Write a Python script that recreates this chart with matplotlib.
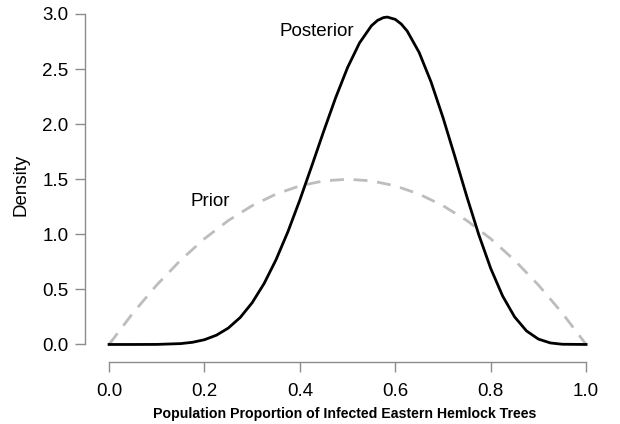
import numpy as np
import matplotlib
matplotlib.use('Agg')
import matplotlib.pyplot as plt

plt.rcParams['font.family'] = ['Liberation Sans', 'DejaVu Sans']

# curve values
post_x = [0.0, 0.05, 0.1, 0.15, 0.175, 0.2, 0.225, 0.25, 0.275, 0.3, 0.325, 0.35, 0.375,
          0.4, 0.425, 0.45, 0.475, 0.5, 0.525, 0.55, 0.5625, 0.575, 0.5833, 0.6, 0.6125,
          0.625, 0.65, 0.675, 0.7, 0.725, 0.75, 0.775, 0.8, 0.825, 0.85, 0.875, 0.9,
          0.925, 0.95, 1.0]
post_y = [0.0, 0.0, 0.0006, 0.0078, 0.0198, 0.0432, 0.084, 0.149, 0.245, 0.379, 0.553, 0.769, 1.024,
          1.312, 1.621, 1.936, 2.240, 2.514, 2.737, 2.893, 2.941, 2.967, 2.972, 2.951, 2.909,
          2.845, 2.651, 2.383, 2.060, 1.705, 1.342, 0.997, 0.691, 0.440, 0.251, 0.123, 0.049,
          0.014, 0.002, 0.0]

prior_x = [0.0, 0.05, 0.1, 0.15, 0.2, 0.25, 0.3, 0.35, 0.4, 0.45, 0.5,
           0.55, 0.6, 0.65, 0.7, 0.75, 0.8, 0.85, 0.9, 0.95, 1.0]
prior_y = [0.0, 0.285, 0.54, 0.765, 0.96, 1.125, 1.26, 1.365, 1.44, 1.485, 1.5,
           1.485, 1.44, 1.365, 1.26, 1.125, 0.96, 0.765, 0.54, 0.285, 0.0]

xticks = [0.0, 0.2, 0.4, 0.6, 0.8, 1.0]
yticks = [0.0, 0.5, 1.0, 1.5, 2.0, 2.5, 3.0]

fig = plt.figure(figsize=(6.2, 4.24), dpi=100)
ax = fig.add_axes([0.1374, 0.146, 0.8387, 0.834])

ax.plot(prior_x, prior_y, color='#bdbdbd', lw=2.0, dashes=(5, 3.5))
ax.plot(post_x, post_y, color='black', lw=2.0, solid_joinstyle='round')

ax.text(0.436, 2.84, 'Posterior', ha='center', va='center', fontsize=13.5)
ax.text(0.212, 1.30, 'Prior', ha='center', va='center', fontsize=13.5)

ax.set_xlim(-0.05, 1.04)
ax.set_ylim(-0.16, 3.05)
for s in ['top', 'right']:
    ax.spines[s].set_visible(False)
ax.spines['left'].set_bounds(0, 3)
ax.spines['bottom'].set_bounds(0, 1)
for s in ['left', 'bottom']:
    ax.spines[s].set_color('#8c8c8c')
    ax.spines[s].set_linewidth(1.0)
ax.set_xticks(xticks)
ax.set_yticks(yticks)
ax.set_xticklabels(['%.1f' % v for v in xticks])
ax.set_yticklabels(['%.1f' % v for v in yticks])
ax.tick_params(axis='both', direction='out', length=7, width=1.0, color='#8c8c8c', labelsize=13.5)
ax.tick_params(axis='x', pad=8)
ax.tick_params(axis='y', pad=5)

ax.set_ylabel('Density', fontsize=13.5, labelpad=9)
ax.set_xlabel('Population Proportion of Infected Eastern Hemlock Trees', fontsize=10.2,
              fontweight='bold', labelpad=5)

fig.savefig('out.png', dpi=100)
